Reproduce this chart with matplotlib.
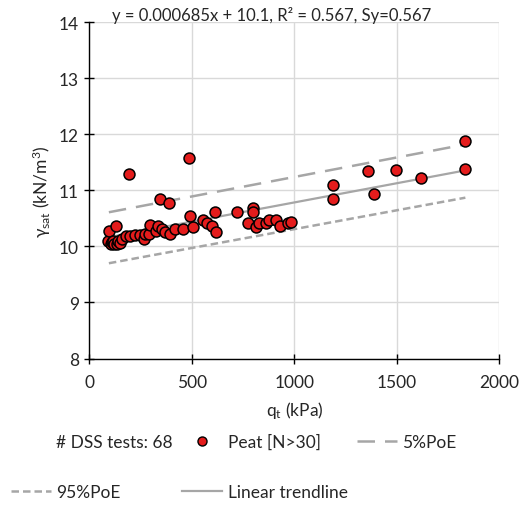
import matplotlib
matplotlib.use('Agg')
import matplotlib.pyplot as plt
import numpy as np
from matplotlib.lines import Line2D

plt.rcParams['font.family'] = ['Lato', 'DejaVu Sans']
plt.rcParams['mathtext.default'] = 'regular'

# measured points: cone resistance q_t (kPa) vs saturated unit weight (kN/m3)
qt = [93, 98, 104, 108, 117, 120, 130, 134, 140, 150, 161, 179, 195, 199,
      223, 247, 264, 272, 293, 296, 324, 337, 345, 353, 369, 390, 394, 418,
      459, 488, 490, 508, 556, 573, 597, 613, 617, 719, 776, 797, 800, 814,
      830, 862, 878, 911, 931, 968, 985, 1191, 1191, 1362, 1391, 1497, 1617,
      1835, 1835]
gamma_sat = [10.10, 10.27, 10.05, 10.08, 10.10, 10.04, 10.37, 10.04, 10.09,
             10.07, 10.14, 10.19, 11.30, 10.19, 10.20, 10.21, 10.13, 10.23,
             10.22, 10.38, 10.28, 10.37, 10.84, 10.31, 10.25, 10.78, 10.22,
             10.31, 10.31, 11.57, 10.55, 10.34, 10.48, 10.41, 10.37, 10.62,
             10.25, 10.62, 10.41, 10.68, 10.62, 10.34, 10.41, 10.41, 10.48,
             10.48, 10.37, 10.41, 10.44, 11.09, 10.85, 11.35, 10.93, 11.36,
             11.22, 11.89, 11.39]

# trendline coefficients (from the equation shown)
slope, intercept = 0.000685, 10.1
# probability-of-exceedance bounds (end points)
poe_x = [95, 1835]
poe5 = [10.61, 11.82]
poe95 = [9.70, 10.87]

xticks = [0, 500, 1000, 1500, 2000]
yticks = [8, 9, 10, 11, 12, 13, 14]

fig = plt.figure(figsize=(5.26, 5.06), dpi=100)
ax = fig.add_axes([0.170, 0.2895, 0.779, 0.6645])

grey = '#a6a6a6'
ax.plot(poe_x, poe5, color=grey, lw=1.8, dashes=(7, 4))
ax.plot(poe_x, poe95, color=grey, lw=1.8, dashes=(3, 1.6))
tx = np.array([min(qt), max(qt)])
ax.plot(tx, slope * tx + intercept, color=grey, lw=1.6)
ax.scatter(qt, gamma_sat, s=62, c='#e41c1c', edgecolors='black',
           linewidths=1.1, zorder=3)

ax.set_xlim(0, 2000)
ax.set_ylim(8, 14)
ax.set_xticks(xticks)
ax.set_yticks(yticks)
ax.grid(True, color='#d9d9d9', lw=1.0)
ax.set_axisbelow(True)
for s in ['top', 'right']:
    ax.spines[s].set_visible(False)
for s in ['left', 'bottom']:
    ax.spines[s].set_color('black')
    ax.spines[s].set_linewidth(1.0)
ax.tick_params(direction='inout', length=7, width=1.0, labelsize=12.5,
               color='black', labelcolor='#262626')
ax.tick_params(axis='y', pad=4)
ax.tick_params(axis='x', pad=8)

ax.set_xlabel('q$_t$ (kPa)', fontsize=12.5, color='#262626', labelpad=6)
ax.set_ylabel('γ$_{sat}$ (kN/m$^3$)', fontsize=12.5, color='#262626',
              labelpad=4)

fig.text(0.516, 0.970, 'y = 0.000685x + 10.1, R² = 0.567, Sy=0.567',
         ha='center', va='center', fontsize=12, color='#262626')

h_dss = Line2D([], [], color='none')
h_peat = Line2D([], [], ls='none', marker='o', ms=6.5, mfc='#e41c1c',
                mec='black', mew=1.0)
h_poe5 = Line2D([], [], color=grey, lw=1.8, dashes=(7, 4))
h_poe95 = Line2D([], [], color=grey, lw=1.8, dashes=(3, 1.6))
h_lin = Line2D([], [], color=grey, lw=1.6)
handles = [h_dss, h_poe95, h_peat, h_lin, h_poe5]
labels = ['# DSS tests: 68', '95%PoE', 'Peat [N>30]', 'Linear trendline',
          '5%PoE']
leg = fig.legend(handles, labels, ncol=3, loc='center left',
                 bbox_to_anchor=(0.008, (506 - 468) / 506.0),
                 bbox_transform=fig.transFigure, frameon=False,
                 fontsize=12.5, handlelength=2.3, handletextpad=0.3,
                 columnspacing=0.55, labelspacing=1.95, borderaxespad=0,
                 labelcolor='#262626')

fig.savefig('out.png', dpi=100)
